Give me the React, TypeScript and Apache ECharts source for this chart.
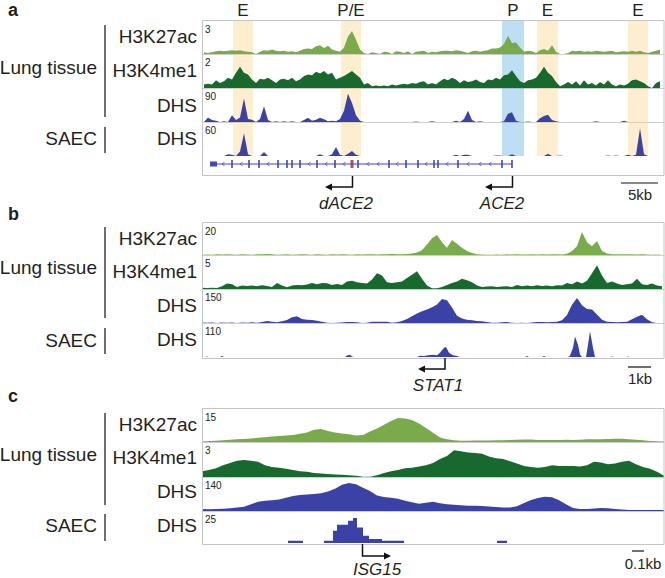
import React, { useEffect, useRef } from 'react';
import * as echarts from 'echarts';

const FONT = "'Liberation Sans', Arial, Helvetica, sans-serif";
const C_K27 = '#7aab4a';
const C_K4 = '#17692e';
const C_DHS = '#3a42a6';
const C_GENE = '#3f49b9';
const C_RED = '#b3202f';
const C_TEXT = '#231f20';
const BAND_E = 'rgba(250, 214, 140, 0.42)';
const BAND_P = 'rgba(110, 185, 228, 0.45)';

// ---------- Panel a (ACE2 locus), bins of equal width ----------
const aH3K27ac = [
  0.15, 0.1, 0.15, 0.25, 0.3, 0.25, 0.3, 0.35, 0.3, 0.35,
  0.25, 0.2, 0.15, 0, 0.2, 0.35, 0.3, 0.4, 0.3, 0.25,
  0.3, 0.2, 0.25, 0.15, 0.3, 0.45, 0.5, 0.45, 0.7, 0.8,
  0.55, 0.75, 0.4, 0.3, 0.2, 0.6, 1.6, 2.1, 1.3, 0.4,
  0.1, 0, 0.15, 0.1, 0, 0.2, 0.15, 0, 0.25, 0.2,
  0.1, 0.25, 0, 0.2, 0.25, 0.3, 0.1, 0.2, 0.15, 0.25,
  0.3, 0.3, 0.25, 0.35, 0.3, 0.2, 0.1, 0.25, 0.3, 0.2,
  0.3, 0.35, 0.5, 0.5, 0.6, 0.9, 1.65, 1.0, 1.05, 0.6,
  0.2, 0.3, 0.25, 0.1, 0.35, 0.45, 0.3, 0.8, 0.2, 0,
  0, 0.1, 0.3, 0.25, 0.3, 0.2, 0.25, 0.2, 0.3, 0.25,
  0.2, 0.25, 0.3, 0.15, 0.2, 0.25, 0.2, 0.3, 0.2, 0.3,
  0.15, 0.1, 0.2, 0.3, 0.4,
];
const aH3K4me1 = [
  0.2, 0.25, 0.2, 0.45, 0.3, 0.4, 0.6, 0.5, 0.9, 1.25,
  0.9, 0.8, 0.5, 0.3, 0.55, 0.5, 0.6, 0.45, 0.3, 0.5,
  0.55, 0.45, 0.6, 0.4, 0.5, 0.7, 0.8, 0.75, 0.95, 0.85,
  1.0, 0.8, 0.9, 0.5, 0.6, 0.7, 0.85, 1.0, 0.8, 0.6,
  0.2, 0.3, 0.1, 0.15, 0.1, 0.15, 0.1, 0.2, 0.15, 0.2,
  0.25, 0.2, 0.3, 0.25, 0.35, 0.4, 0.2, 0.3, 0.2, 0.4,
  0.55, 0.45, 0.6, 0.5, 0.3, 0.45, 0.35, 0.4, 0.5, 0.35,
  0.3, 0.5, 0.45, 0.6, 0.5, 0.75, 0.8, 1.05, 0.7, 0.4,
  0.3, 0.45, 0.5, 0.6, 0.9, 1.25, 0.9, 0.7, 0.35, 0.1,
  0.2, 0.35, 0.2, 0.4, 0.15, 0.45, 0.2, 0.3, 0.15, 0.35,
  0.2, 0.45, 0.2, 0.1, 0.2, 0.15, 0.25, 0.45, 0.5, 0.4,
  0.3, 0.1, 0, 0.3, 0.4,
];
const aDHS = [
  0, 12, 5, 3, 0, 2, 0, 18, 5, 12,
  62, 8, 6, 0, 8, 42, 5, 0, 2, 0,
  2, 0, 2, 0, 0, 5, 11, 3, 6, 11,
  7, 2, 3, 2, 8, 30, 75, 50, 18, 3,
  0, 0, 0, 0, 0, 0, 0, 0, 0, 0,
  0, 0, 0, 1, 0, 0, 0, 2, 0, 0,
  0, 0, 0, 3, 0, 8, 30, 5, 0, 2,
  0, 0, 0, 0, 0, 2, 22, 26, 3, 0,
  0, 1, 0, 0, 10, 16, 19, 5, 2, 0,
  0, 0, 0, 0, 0, 0, 0, 0, 2, 0,
  0, 0, 0, 0, 0, 3, 0, 0, 0, 0,
  0, 0, 0, 0, 0,
];
const aSAEC = [
  0, 0, 0, 0, 0, 0, 3, 2, 0, 8,
  40, 3, 0, 0, 0, 7, 0, 0, 0, 0,
  0, 0, 0, 0, 0, 0, 0, 0, 0, 3,
  0, 0, 3, 16, 2, 0, 4, 9, 2, 0,
  0, 0, 0, 0, 0, 0, 0, 0, 0, 0,
  0, 0, 0, 0, 0, 0, 0, 0, 0, 0,
  0, 0, 0, 2, 0, 2, 2, 0, 0, 0,
  0, 0, 0, 1, 1, 0, 0, 3, 0, 0,
  0, 0, 0, 0, 0, 0, 4, 0, 0, 1,
  0, 0, 0, 0, 0, 0, 0, 0, 0, 0,
  0, 1, 0, 1, 0, 0, 2, 0, 2, 49,
  3, 0, 0, 0, 0,
];
const aBandStart = [7.25, 34.25, 74.5, 83.25, 106];
const aBandEnd = [12.25, 39.25, 80, 88.5, 111];
const aBandLabel = ['E', 'P/E', 'P', 'E', 'E'];
const aGeneStart = 1.5;
const aGeneEnd = 77;
const aUtr = [1.5, 3.25];
const aExons = [7, 11.25, 13.75, 18.5, 20.75, 22, 24, 28.25, 32.75, 38.5, 46.25, 50.5, 53.5, 57.5, 58.5, 63.5, 74.5, 77];
const aRedExon = [37];
const aChevrons = [4.75, 9.25, 16, 26.25, 30.5, 35, 41, 43.5, 48.25, 55.5, 60.75, 66, 69, 71.5];

// ---------- Panel b (STAT1), step 5 ----------
const bH3K27ac = [
  0.2, 0.3, 0.2, 0.4, 0.3, 0.5, 0.3, 0.2, 0.4, 0.3,
  0.2, 0.4, 0.5, 0.6, 0.4, 0.2, 0.3, 0.4, 0.2, 0.3,
  0.5, 0.3, 0.2, 0.4, 0.3, 0.2, 0.4, 0.3, 0.5, 0.3,
  0.2, 0.4, 0.3, 0.5, 0.4, 0.3, 0.4, 0.5, 0.6, 0.5,
  0.4, 0.6, 0.9, 1.5, 3, 6.5, 10.5, 12.5, 8, 4.5,
  9.4, 7, 4.5, 2.5, 1.2, 0.5, 0.3, 0.2, 0.2, 0.3,
  0.2, 0.4, 0.3, 0.4, 0.3, 0.3, 0.4, 0.3, 0.4, 0.3,
  0.5, 0.4, 0.3, 0.8, 2.5, 5.5, 14.4, 8, 5.5, 8.8,
  2.5, 1, 0.4, 0.5, 0.4, 0.5, 0.4, 0.3, 0.4, 0.3,
  0.2, 0.3, 0,
];
const bH3K4me1 = [
  0.2, 0.15, 0.2, 0.15, 0.4, 0.8, 0.7, 0.3, 0.5, 0.45,
  0.5, 0.4, 0.55, 0.45, 0.3, 0.9, 0.5, 0.25, 0.5, 0.6,
  0.55, 0.65, 0.9, 0.7, 0.9, 0.85, 0.6, 0.75, 0.6, 1.1,
  1.2, 1.0, 0.9, 0.8, 1.4, 2.3, 2.0, 1.0, 0.9, 1.0,
  1.1, 1.6, 2.1, 2.6, 1.5, 0.5, 0.1, 0.1, 0.3, 0.6,
  0.9, 1.1, 1.5, 1.3, 1.0, 0.5, 0.3, 0.35, 0.4, 0.3,
  0.35, 0.4, 0.3, 0.6, 0.4, 0.5, 0.4, 0.55, 0.45, 0.5,
  0.4, 0.55, 0.5, 0.9, 0.7, 1.1, 0.8, 1.2, 2.3, 3.5,
  2.0, 0.9, 1.1, 0.8, 0.6, 0.7, 0.8, 1.5, 0.7, 0.6,
  0.8, 0.5, 0.4,
];
const bDHS = [
  2, 1, 2, 0, 2, 1, 2, 0, 2, 1,
  3, 1, 4, 9, 6, 3, 8, 13, 25, 30,
  18, 14, 13, 10, 5, 1, 0, 1, 2, 4,
  4, 3, 0, 1, 5, 6, 6, 5, 1, 3,
  9, 18, 30, 42, 52, 60, 70, 82, 106, 100,
  68, 32, 20, 14, 12, 9, 8, 4, 1, 1,
  3, 4, 1, 0, 1, 0, 2, 4, 4, 3,
  4, 5, 12, 35, 80, 110, 78, 62, 60, 38,
  14, 5, 4, 3, 4, 6, 16, 28, 36, 16,
  3, 0, 0,
];
const bSAEC = [
  [0, 0], [3, 0], [5, 2], [7, 0], [18, 0], [20, 3], [22, 0], [143, 0], [145, 5], [148, 7],
  [150, 2], [152, 0], [215, 0], [218, 4], [222, 3], [226, 6], [231, 7], [235, 6], [238, 14], [242, 30],
  [244, 32], [247, 14], [251, 6], [255, 3], [258, 0], [323, 0], [325, 3], [327, 0], [340, 0], [342, 3],
  [344, 0], [366, 0], [368, 4], [371, 30], [373, 66], [376, 40], [378, 8], [380, 0], [384, 0], [386, 40],
  [388, 83], [391, 30], [393, 0], [408, 0], [410, 2], [412, 0], [424, 0], [426, 2], [428, 0], [462, 0],
];

// ---------- Panel c (ISG15), step 7 ----------
const cH3K27ac = [
  0.2, 0.4, 0.6, 0.8, 1.0, 1.2, 1.4, 1.6, 1.9, 2.2,
  2.5, 2.7, 2.9, 3.2, 3.7, 4.3, 5.6, 5.9, 5.0, 4.3,
  3.9, 3.5, 3.0, 3.2, 4.8, 6.1, 7.8, 9.6, 10.9, 10.7,
  10.0, 8.4, 6.4, 4.2, 2.0, 1.3, 0.8, 0.6, 0.6, 0.7,
  0.7, 0.7, 0.8, 0.8, 0.9, 1.0, 1.1, 1.1, 0.9, 0.9,
  0.9, 0.9, 1.0, 0.9, 1.0, 1.2, 1.3, 1.3, 1.4, 1.5,
  1.5, 1.3, 1.0, 0.8, 0.5, 0.3, 0.2,
];
const cH3K4me1 = [
  0.5, 0.6, 0.75, 1.0, 1.2, 1.4, 1.45, 1.4, 1.3, 1.0,
  0.85, 0.8, 0.7, 0.6, 0.5, 0.45, 0.35, 0.3, 0.25, 0.22,
  0.2, 0.15, 0.1, 0.02, 0.02, 0.15, 0.35, 0.5, 0.6, 0.75,
  0.8, 0.9, 1.0, 1.2, 1.55, 1.8, 2.3, 2.2, 2.1, 2.05,
  2.0, 1.75, 1.6, 1.55, 1.35, 1.15, 0.95, 0.85, 0.8, 0.85,
  1.0, 0.95, 0.95, 0.95, 0.9, 1.0, 1.3, 1.25, 1.1, 1.15,
  1.3, 1.4, 1.1, 0.85, 0.7, 0.45, 0.1,
];
const cDHS = [
  8, 7, 8, 9, 11, 14, 18, 28, 38, 42,
  44, 47, 55, 62, 66, 68, 70, 73, 80, 92,
  108, 115, 110, 96, 82, 64, 58, 55, 50, 42,
  36, 30, 34, 38, 32, 28, 26, 24, 22, 22,
  21, 19, 16, 14, 14, 20, 33, 45, 54, 59,
  57, 44, 28, 12, 8, 8, 10, 12, 11, 8,
  6, 4, 4, 4, 4, 4, 4,
];
const cSAEC = [
  [0, 0], [86, 1.8], [101, 0], [122, 1.8], [131, 9.6], [135, 14.3], [146, 17.4], [151, 19.5],
  [155, 12.2], [161, 5.7], [167, 3.1], [180, 1.8], [202, 0], [295, 1.8], [305, 0], [462, 0],
];

const rowLabels = ['H3K27ac', 'H3K4me1', 'DHS', 'DHS'];
const groupLabels = ['Lung tissue', 'SAEC'];

const aX = (arr: number[]) => arr.map((v, i) => [i, v]);
const bX = (arr: number[]) => arr.map((v, i) => [i * 5, v]);
const cX = (arr: number[]) => arr.map((v, i) => [i * 7, v]);

type Track = {
  top: number; height: number; data: number[][]; max: number;
  xMin: number; xMax: number; color: string; base: boolean;
  step?: false | 'end'; bands?: 'label' | 'plain';
};

const tracks: Track[] = [
  { top: 21, height: 33, data: aX(aH3K27ac), max: 3, xMin: -0.5, xMax: 115, color: C_K27, base: true, bands: 'label' },
  { top: 54, height: 34, data: aX(aH3K4me1), max: 2, xMin: -0.5, xMax: 115, color: C_K4, base: true, bands: 'plain' },
  { top: 88, height: 34, data: aX(aDHS), max: 90, xMin: -0.5, xMax: 115, color: C_DHS, base: true, bands: 'plain' },
  { top: 122, height: 34, data: aX(aSAEC), max: 60, xMin: -0.5, xMax: 115, color: C_DHS, base: false, bands: 'plain' },
  { top: 223, height: 32, data: bX(bH3K27ac), max: 20, xMin: 0, xMax: 462, color: C_K27, base: true },
  { top: 255, height: 34, data: bX(bH3K4me1), max: 5, xMin: 0, xMax: 462, color: C_K4, base: true },
  { top: 289, height: 34, data: bX(bDHS), max: 150, xMin: 0, xMax: 462, color: C_DHS, base: true },
  { top: 323, height: 34, data: bSAEC, max: 110, xMin: 0, xMax: 462, color: C_DHS, base: false },
  { top: 409, height: 33, data: cX(cH3K27ac), max: 15, xMin: 0, xMax: 462, color: C_K27, base: true },
  { top: 442, height: 35, data: cX(cH3K4me1), max: 3, xMin: 0, xMax: 462, color: C_K4, base: true },
  { top: 477, height: 34, data: cX(cDHS), max: 140, xMin: 0, xMax: 462, color: C_DHS, base: true },
  { top: 511, height: 32, data: cSAEC, max: 25, xMin: 0, xMax: 462, color: C_DHS, base: false, step: 'end' },
];

const GENE_GRID = tracks.length;

const txt = (
  text: string, x: number, y: number, size: number, align = 'left',
  opts: { italic?: boolean; bold?: boolean } = {},
) => ({
  type: 'text', x, y, silent: true, z: 100,
  style: {
    text,
    fill: C_TEXT,
    font: `${opts.italic ? 'italic ' : ''}${opts.bold ? 'bold ' : ''}${size}px ${FONT}`,
    textAlign: align, align,
    textVerticalAlign: 'middle', verticalAlign: 'middle',
  },
});
const line = (x1: number, y1: number, x2: number, y2: number, color = '#111', w = 1.5) => ({
  type: 'line', silent: true, z: 100, shape: { x1, y1, x2, y2 }, style: { stroke: color, lineWidth: w },
});
const poly = (points: number[][], w = 1.5) => ({
  type: 'polyline', silent: true, z: 100, shape: { points }, style: { stroke: '#111', lineWidth: w, fill: null },
});
const head = (points: number[][]) => ({
  type: 'polygon', silent: true, z: 100, shape: { points }, style: { fill: '#111' },
});
const box = (y: number, h: number) => ({
  type: 'rect', silent: true, z: 100, shape: { x: 202.5, y, width: 461.5, height: h },
  style: { stroke: '#c4c4c4', lineWidth: 1, fill: null },
});

function buildOption() {
  const grids: any[] = tracks.map((t) => ({ left: 202, width: 462, top: t.top, height: t.height }));
  grids.push({ left: 202, width: 462, top: 156, height: 16 });

  const xAxes: any[] = tracks.map((t, k) => ({
    gridIndex: k, type: 'value', min: t.xMin, max: t.xMax,
    axisLine: { show: t.base, onZero: true, lineStyle: { color: '#cdcdcd', width: 1 } },
    axisTick: { show: false }, axisLabel: { show: false }, splitLine: { show: false },
  }));
  xAxes.push({
    gridIndex: GENE_GRID, type: 'value', min: -0.5, max: 115,
    axisLine: { show: false }, axisTick: { show: false }, axisLabel: { show: false }, splitLine: { show: false },
  });

  const yAxes: any[] = tracks.map((t, k) => ({
    gridIndex: k, type: 'value', min: 0, max: t.max, interval: t.max,
    axisLine: { show: false }, axisTick: { show: false }, splitLine: { show: false },
    axisLabel: {
      inside: true, margin: 3, fontSize: 10, color: '#222', fontFamily: FONT,
      verticalAlign: 'top', padding: [3, 0, 0, 0],
      formatter: (v: number) => (v === t.max ? String(t.max) : ''),
    },
  }));
  yAxes.push({
    gridIndex: GENE_GRID, type: 'value', min: -1, max: 1,
    axisLine: { show: false }, axisTick: { show: false }, axisLabel: { show: false }, splitLine: { show: false },
  });

  const series: any[] = tracks.map((t, k) => {
    const s: any = {
      type: 'line', xAxisIndex: k, yAxisIndex: k, data: t.data, symbol: 'none', silent: true,
      step: t.step || false,
      lineStyle: { color: t.color, width: 0 },
      areaStyle: { color: t.color, opacity: 1 },
      itemStyle: { color: t.color },
    };
    if (t.bands) {
      s.markArea = {
        silent: true,
        label: {
          show: t.bands === 'label', position: 'top', distance: 2,
          fontSize: 17, fontFamily: FONT, color: C_TEXT,
        },
        data: aBandStart.map((st, j) => [
          { name: aBandLabel[j], xAxis: st, itemStyle: { color: aBandLabel[j] === 'P' ? BAND_P : BAND_E } },
          { xAxis: aBandEnd[j] },
        ]),
      };
    }
    return s;
  });

  // gene model (panel a)
  series.push({
    type: 'line', xAxisIndex: GENE_GRID, yAxisIndex: GENE_GRID, symbol: 'none', silent: true,
    data: [[aGeneStart, 0], [aGeneEnd, 0]], lineStyle: { color: C_GENE, width: 1 },
  });
  series.push({
    type: 'line', xAxisIndex: GENE_GRID, yAxisIndex: GENE_GRID, symbol: 'none', silent: true,
    data: [[aUtr[0], 0], [aUtr[1], 0]], lineStyle: { color: C_GENE, width: 5 },
  });
  series.push({
    type: 'scatter', xAxisIndex: GENE_GRID, yAxisIndex: GENE_GRID, silent: true,
    data: aExons.map((p) => [p, 0]), symbol: 'rect', symbolSize: [2, 8], itemStyle: { color: C_GENE },
  });
  series.push({
    type: 'scatter', xAxisIndex: GENE_GRID, yAxisIndex: GENE_GRID, silent: true,
    data: aRedExon.map((p) => [p, 0]), symbol: 'rect', symbolSize: [3, 8], itemStyle: { color: C_RED },
  });
  series.push({
    type: 'scatter', xAxisIndex: GENE_GRID, yAxisIndex: GENE_GRID, silent: true,
    data: aChevrons.map((p) => [p, 0]),
    symbol: 'path://M10,0 L0,5 L10,10 L10,8 L4,5 L10,2 Z', symbolSize: [3, 5],
    itemStyle: { color: C_GENE },
  });

  // left-hand labels
  const rowY = [
    [36.5, 70.5, 105, 138.5],
    [238.5, 271.5, 305, 339.5],
    [424.5, 457.5, 491.5, 525.5],
  ];
  const groupY = [[67.5, 138.5], [267.5, 340], [454.5, 525.5]];
  const barY = [
    [[25, 117], [127, 153]],
    [[227, 318], [328, 354]],
    [[413, 505], [514, 541]],
  ];
  const letters = [['a', 9.5], ['b', 213.8], ['c', 395.5]];

  const graphic: any[] = [];
  graphic.push(box(20.5, 155), box(222.5, 136), box(408.5, 136));
  for (let p = 0; p < 3; p++) {
    rowLabels.forEach((lab, r) => graphic.push(txt(lab, 197, rowY[p][r], 19, 'right')));
    groupLabels.forEach((lab, g) => graphic.push(txt(lab, 97, groupY[p][g], 19, 'right')));
    barY[p].forEach(([y1, y2]) => graphic.push(line(105, y1, 105, y2, '#6f6f6f', 2)));
    graphic.push(txt(letters[p][0] as string, 8, letters[p][1] as number, 18, 'left', { bold: true }));
  }

  // TSS arrows + gene names
  graphic.push(poly([[352.5, 176], [352.5, 187], [331, 187]]), head([[325, 187], [332, 183.5], [332, 190.5]]));
  graphic.push(poly([[512.5, 176], [512.5, 187], [491, 187]]), head([[485, 187], [492, 183.5], [492, 190.5]]));
  graphic.push(poly([[445, 358], [445, 369], [424, 369]]), head([[418, 369], [425, 365.5], [425, 372.5]]));
  graphic.push(poly([[362.5, 544], [362.5, 556], [384, 556]]), head([[391, 556], [384, 552.5], [384, 559.5]]));
  graphic.push(txt('dACE2', 346, 203.5, 17, 'center', { italic: true }));
  graphic.push(txt('ACE2', 502, 203.5, 17, 'center', { italic: true }));
  graphic.push(txt('STAT1', 438, 385, 17, 'center', { italic: true }));
  graphic.push(txt('ISG15', 377, 569.5, 17, 'center', { italic: true }));

  // scale bars
  graphic.push(line(621, 183, 658, 183, '#111', 1.2), txt('5kb', 640, 194, 15, 'center'));
  graphic.push(line(628, 367, 651, 367, '#111', 1.2), txt('1kb', 640, 378.5, 15, 'center'));
  graphic.push(line(632, 551, 644, 551, '#111', 1.2), txt('0.1kb', 643, 563, 15, 'center'));

  return {
    animation: false,
    backgroundColor: '#ffffff',
    grid: grids,
    xAxis: xAxes,
    yAxis: yAxes,
    series,
    graphic,
  };
}

export default function App() {
  const ref = useRef<HTMLDivElement>(null);
  useEffect(() => {
    if (!ref.current) return;
    const chart = echarts.init(ref.current, null, { renderer: 'svg' });
    chart.setOption(buildOption() as any);
    return () => chart.dispose();
  }, []);
  return <div ref={ref} style={{ position: 'absolute', left: 0, top: 0, width: 665, height: 578 }} />;
}
